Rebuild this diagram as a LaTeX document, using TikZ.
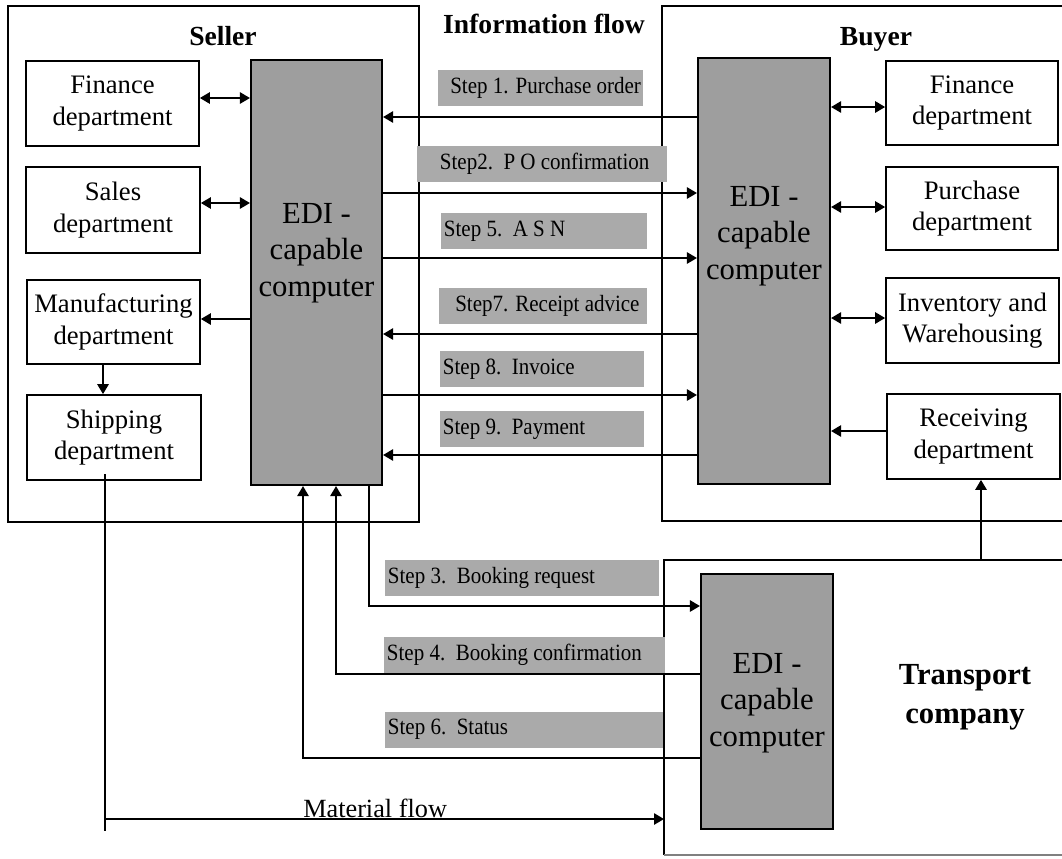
\documentclass[tikz,border=0pt]{standalone}
\usepackage{fontspec}
\setmainfont{Liberation Serif}
\newfontfamily\stepfont[FakeStretch=0.9]{Liberation Serif}
\usetikzlibrary{arrows.meta,fit}
\definecolor{edigray}{RGB}{158,158,158}
\definecolor{stepgray}{RGB}{170,170,170}
\tikzset{
  ln/.style={line width=1.3pt},
  arr/.style={ln,-{Triangle[length=7.5pt,width=8.5pt]}},
  darr/.style={ln,{Triangle[length=7.5pt,width=8.5pt]}-{Triangle[length=7.5pt,width=8.5pt]}},
  dept/.style={draw,ln,inner sep=0pt},
  depttxt/.style={align=center,inner sep=0pt,font=\fontsize{20}{23.5}\selectfont},
  edibox/.style={draw,line width=1.6pt,fill=edigray,inner sep=0pt},
  editext/.style={align=center,inner sep=0pt,font=\fontsize{23}{27.5}\selectfont},
  steplbl/.style={fill=stepgray,anchor=west,inner sep=0pt,minimum height=27pt},
  steptxt/.style={anchor=west,inner xsep=2pt,font=\stepfont\fontsize{17.5}{20}\selectfont},
  ttl/.style={inner sep=0pt,font=\bfseries\fontsize{20.7}{24}\selectfont},
}
\begin{document}
\begin{tikzpicture}[x=0.75pt,y=-0.75pt]
\useasboundingbox (0,0) rectangle (1062,858);
% containers
\draw[ln] (8,6) rectangle (419,522);
\draw[ln] (1062,6) -- (662,6) -- (662,521) -- (1062,521);
\draw[ln] (1062,560) -- (664,560) -- (664,855);
\draw[line width=0.8pt,gray] (664,855) -- (1062,855);
% seller departments
\node[dept,fit={(26,61)(199,146)},label={[depttxt]center:Finance\\department}] (sfin) {};
\node[dept,fit={(26,167)(200,253)},label={[depttxt]center:Sales\\department}] (ssal) {};
\node[dept,fit={(27,280)(200,364)},label={[depttxt]center:Manufacturing\\department}] (sman) {};
\node[dept,fit={(27,395)(201,480)},label={[depttxt]center:Shipping\\department}] (sship) {};
% buyer departments
\node[dept,fit={(886,61)(1058,145)},label={[depttxt]center:Finance\\department}] (bfin) {};
\node[dept,fit={(886,167)(1058,250)},label={[depttxt]center:Purchase\\department}] (bpur) {};
\node[dept,fit={(886,278)(1059,363)},label={[depttxt]center:Inventory and\\Warehousing}] (binv) {};
\node[dept,fit={(887,394)(1060,479)},label={[depttxt]center:Receiving\\department}] (brec) {};
% EDI computers
\node[edibox,fit={(251,60)(382,485)}] (sedi) {};
\node[editext] (sedit) at (316.5,253) {EDI -\\capable\\computer};
\node[edibox,fit={(698,58)(830,484)}] (bedi) {};
\node[editext] (bedit) at (764,236) {EDI -\\capable\\computer};
\node[edibox,fit={(701,574)(833,829)}] (tedi) {};
\node[editext] (tedit) at (767,703) {EDI -\\capable\\computer};
% titles
\node[ttl] (tseller) at (223,36) {Seller};
\node[ttl] (tinfo) at (544,24) {Information flow};
\node[ttl] (tbuyer) at (876,39) {Buyer};
\node[inner sep=0pt,align=center,font=\bfseries\fontsize{23}{29}\selectfont] (ttrans) at (965,697) {Transport\\company};
% row coordinates
\coordinate (ya) at (0,98);
\coordinate (yb) at (0,203);
\coordinate (yc) at (0,319);
\coordinate (yd) at (0,107);
\coordinate (ye) at (0,207);
\coordinate (yf) at (0,318);
\coordinate (yg) at (0,431);
\coordinate (r1) at (0,117);
\coordinate (r2) at (0,193);
\coordinate (r5) at (0,258);
\coordinate (r7) at (0,334);
\coordinate (r8) at (0,395);
\coordinate (r9) at (0,455);
\coordinate (cms) at (103,0);
\coordinate (c3) at (369,606);
\coordinate (c4) at (336,674);
\coordinate (c6) at (303,758);
\coordinate (cm) at (105,819);
\coordinate (cmtop) at (105,474);
\coordinate (cmend) at (105,831);
\coordinate (tbl) at (664,855);
\coordinate (ttop) at (981,560);
% seller internal
\draw[darr] (sfin.east |- ya) -- (sedi.west |- ya);
\draw[darr] (ssal.east |- yb) -- (sedi.west |- yb);
\draw[arr] (sedi.west |- yc) -- (sman.east |- yc);
\draw[arr] (sman.south -| cms) -- (sship.north -| cms);
% buyer internal
\draw[darr] (bedi.east |- yd) -- (bfin.west |- yd);
\draw[darr] (bedi.east |- ye) -- (bpur.west |- ye);
\draw[darr] (bedi.east |- yf) -- (binv.west |- yf);
\draw[arr] (brec.west |- yg) -- (bedi.east |- yg);
% information flow
\draw[arr] (bedi.west |- r1) -- (sedi.east |- r1);
\draw[arr] (sedi.east |- r2) -- (bedi.west |- r2);
\draw[arr] (sedi.east |- r5) -- (bedi.west |- r5);
\draw[arr] (bedi.west |- r7) -- (sedi.east |- r7);
\draw[arr] (sedi.east |- r8) -- (bedi.west |- r8);
\draw[arr] (bedi.west |- r9) -- (sedi.east |- r9);
% transport flows
\draw[arr] (sedi.south -| c3) |- (tedi.west |- c3);
\draw[arr] (tedi.west |- c4) -| (sedi.south -| c4);
\draw[arr] (tedi.west |- c6) -| (sedi.south -| c6);
% material flow
\draw[ln] (cmtop) -- (cmend);
\draw[arr] (cm) -- (cm -| tbl);
\node[anchor=base west,inner sep=0pt,font=\fontsize{19.7}{23}\selectfont] (tmat) at (303,817) {Material flow};
\draw[arr] (ttop) -- (brec.south -| ttop);
% step labels
\node[steplbl,minimum width=153.8pt,label={[steptxt,xshift=7pt]west:Step 1. Purchase order}] (s1) at (438,88) {};
\node[steplbl,minimum width=187.5pt,label={[steptxt,xshift=15pt]west:Step2.\ \ P O confirmation}] (s2) at (417,164) {};
\node[steplbl,minimum width=154.5pt,label={[steptxt]west:Step 5.\ \ A S N}] (s5) at (441,231) {};
\node[steplbl,minimum width=156pt,label={[steptxt,xshift=10pt]west:Step7. Receipt advice}] (s7) at (439,306) {};
\node[steplbl,minimum width=153pt,label={[steptxt]west:Step 8.\ \ Invoice}] (s8) at (440,369) {};
\node[steplbl,minimum width=153pt,label={[steptxt]west:Step 9.\ \ Payment}] (s9) at (440,429) {};
\node[steplbl,minimum width=205.5pt,label={[steptxt]west:Step 3.\ \ Booking request}] (s3) at (385,578) {};
\node[steplbl,minimum width=210.75pt,label={[steptxt]west:Step 4.\ \ Booking confirmation}] (s4) at (384,655) {};
\node[steplbl,minimum width=208.5pt,label={[steptxt]west:Step 6.\ \ Status}] (s6) at (385,729.5) {};
\end{tikzpicture}
\end{document}
